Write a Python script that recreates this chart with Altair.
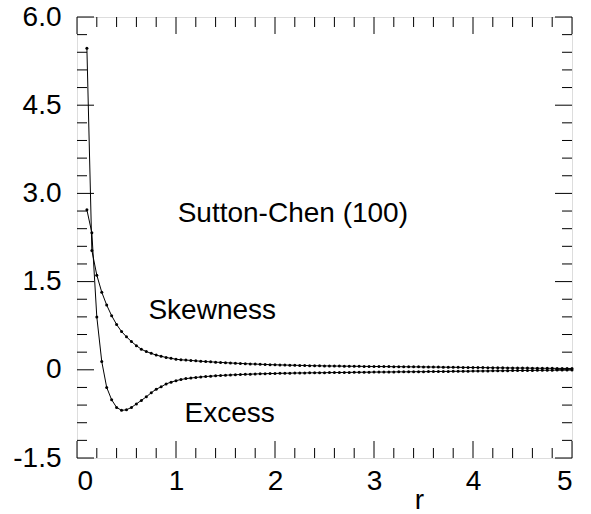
import altair as alt
import pandas as pd

r_values = [0.10, 0.15, 0.20, 0.25, 0.30, 0.35, 0.40, 0.45, 0.50, 0.55,
            0.60, 0.65, 0.70, 0.75, 0.80, 0.85, 0.90, 0.95, 1.00, 1.05,
            1.10, 1.15, 1.20, 1.25, 1.30, 1.35, 1.40, 1.45, 1.50, 1.55,
            1.60, 1.65, 1.70, 1.75, 1.80, 1.85, 1.90, 1.95, 2.00, 2.05,
            2.10, 2.15, 2.20, 2.25, 2.30, 2.35, 2.40, 2.45, 2.50, 2.55,
            2.60, 2.65, 2.70, 2.75, 2.80, 2.85, 2.90, 2.95, 3.00, 3.05,
            3.10, 3.15, 3.20, 3.25, 3.30, 3.35, 3.40, 3.45, 3.50, 3.55,
            3.60, 3.65, 3.70, 3.75, 3.80, 3.85, 3.90, 3.95, 4.00, 4.05,
            4.10, 4.15, 4.20, 4.25, 4.30, 4.35, 4.40, 4.45, 4.50, 4.55,
            4.60, 4.65, 4.70, 4.75, 4.80, 4.85, 4.90, 4.95, 5.00]

skewness = [5.47, 2.03, 1.61, 1.32, 1.10, 0.92, 0.77, 0.65, 0.56, 0.48,
            0.41, 0.35, 0.31, 0.28, 0.25, 0.23, 0.21, 0.195, 0.18, 0.17,
            0.165, 0.16, 0.152, 0.146, 0.14, 0.135, 0.13, 0.125, 0.121, 0.116,
            0.112, 0.108, 0.104, 0.100, 0.097, 0.094, 0.091, 0.088, 0.085, 0.083,
            0.081, 0.079, 0.077, 0.075, 0.073, 0.071, 0.069, 0.068, 0.066, 0.065,
            0.064, 0.063, 0.062, 0.061, 0.060, 0.059, 0.058, 0.057, 0.056, 0.056,
            0.055, 0.054, 0.053, 0.053, 0.052, 0.051, 0.050, 0.050, 0.049, 0.048,
            0.047, 0.046, 0.045, 0.044, 0.043, 0.042, 0.041, 0.040, 0.039, 0.038,
            0.037, 0.036, 0.035, 0.034, 0.033, 0.032, 0.031, 0.030, 0.030, 0.029,
            0.028, 0.027, 0.026, 0.026, 0.025, 0.024, 0.023, 0.023, 0.022]

excess = [2.72, 2.33, 0.90, 0.14, -0.30, -0.51, -0.64, -0.69, -0.68, -0.64,
          -0.58, -0.52, -0.46, -0.39, -0.33, -0.29, -0.24, -0.21, -0.185, -0.165,
          -0.15, -0.14, -0.13, -0.122, -0.115, -0.108, -0.102, -0.097, -0.092, -0.088,
          -0.084, -0.080, -0.077, -0.074, -0.071, -0.068, -0.066, -0.064, -0.062, -0.060,
          -0.058, -0.057, -0.055, -0.054, -0.053, -0.052, -0.051, -0.050, -0.049, -0.048,
          -0.047, -0.046, -0.045, -0.044, -0.043, -0.042, -0.041, -0.040, -0.039, -0.038,
          -0.038, -0.037, -0.036, -0.035, -0.035, -0.034, -0.033, -0.032, -0.032, -0.031,
          -0.030, -0.029, -0.028, -0.027, -0.026, -0.025, -0.024, -0.023, -0.022, -0.021,
          -0.020, -0.019, -0.018, -0.017, -0.016, -0.015, -0.014, -0.013, -0.012, -0.011,
          -0.010, -0.009, -0.008, -0.007, -0.006, -0.005, -0.004, -0.003, -0.002]

x_major = [0, 1, 2, 3, 4, 5]
x_minor = [0.2, 0.4, 0.6, 0.8, 1.2, 1.4, 1.6, 1.8, 2.2, 2.4, 2.6, 2.8,
           3.2, 3.4, 3.6, 3.8, 4.2, 4.4, 4.6, 4.8]
y_major = [-1.5, 0, 1.5, 3.0, 4.5, 6.0]
y_minor = [-1.2, -0.9, -0.6, -0.3, 0.3, 0.6, 0.9, 1.2, 1.8, 2.1, 2.4, 2.7,
           3.3, 3.6, 3.9, 4.2, 4.8, 5.1, 5.4, 5.7]

label_text = ["Sutton-Chen (100)", "Skewness", "Excess"]
label_r = [2.18, 1.366, 1.542]
label_v = [2.51, 0.864, -0.88]

W, H = 495, 441
FONT = "Liberation Sans"

rows = []
for r, s in zip(r_values, skewness):
    rows.append({"r": r, "v": s, "series": "Skewness"})
for r, e in zip(r_values, excess):
    rows.append({"r": r, "v": e, "series": "Excess"})
df = pd.DataFrame(rows)

xscale = alt.Scale(domain=[0, 5], nice=False, zero=False)
yscale = alt.Scale(domain=[-1.5, 6.0], nice=False, zero=False)

xaxis = alt.Axis(
    title="r", values=x_major, format="d", ticks=False, tickSize=0,
    domain=False, grid=False, labelFont=FONT, labelFontSize=28,
    labelColor="black", labelPadding=9, titleFont=FONT,
    titleFontSize=28, titleFontWeight="normal", titleColor="black",
    titleX=342, titleY=50, titleBaseline="alphabetic", titleAlign="center")
yaxis = alt.Axis(
    title=None, values=y_major, ticks=False, tickSize=0, domain=False,
    grid=False, labelFont=FONT, labelFontSize=28, labelColor="black",
    labelPadding=16,
    labelExpr="datum.value == 0 ? '0' : (datum.value < 0 ? '-' + format(-datum.value, '.1f') : format(datum.value, '.1f'))")


def X(field="r"):
    return alt.X(field + ":Q", scale=xscale, axis=xaxis)


def Y(field="v"):
    return alt.Y(field + ":Q", scale=yscale, axis=yaxis)


curves = alt.Chart(df).mark_line(
    color="black", strokeWidth=1,
    point=alt.OverlayMarkDef(filled=True, color="black", size=9)
).encode(x=X(), y=Y(), detail="series:N")

labels = alt.Chart(pd.DataFrame({"t": label_text, "r": label_r, "v": label_v})).mark_text(
    font=FONT, fontSize=28, color="black", align="center", baseline="alphabetic"
).encode(x=X(), y=Y(), text="t:N")


def xticks(vals, length):
    d = pd.DataFrame({"r": vals})
    bottom = alt.Chart(d).mark_rule(color="black", strokeWidth=1).encode(
        x=X(), y=alt.value(H), y2=alt.value(H - length))
    top = alt.Chart(d).mark_rule(color="black", strokeWidth=1).encode(
        x=X(), y=alt.value(0), y2=alt.value(length))
    return [bottom, top]


def yticks(vals, length):
    d = pd.DataFrame({"v": vals})
    left = alt.Chart(d).mark_rule(color="black", strokeWidth=1).encode(
        y=Y(), x=alt.value(0), x2=alt.value(length))
    right = alt.Chart(d).mark_rule(color="black", strokeWidth=1).encode(
        y=Y(), x=alt.value(W), x2=alt.value(W - length))
    return [left, right]


layers = ([curves, labels] + xticks(x_major, 17) + xticks(x_minor, 10) +
          yticks(y_major, 17) + yticks(y_minor, 10))

chart = alt.layer(*layers).properties(
    width=W, height=H,
    autosize=alt.AutoSizeParams(type="none"),
    padding={"left": 77, "top": 17, "right": 19, "bottom": 56},
).configure_view(stroke="black", strokeWidth=1.5).configure(background="white")

chart.save("out.html", embed_options={"renderer": "svg", "actions": False})
